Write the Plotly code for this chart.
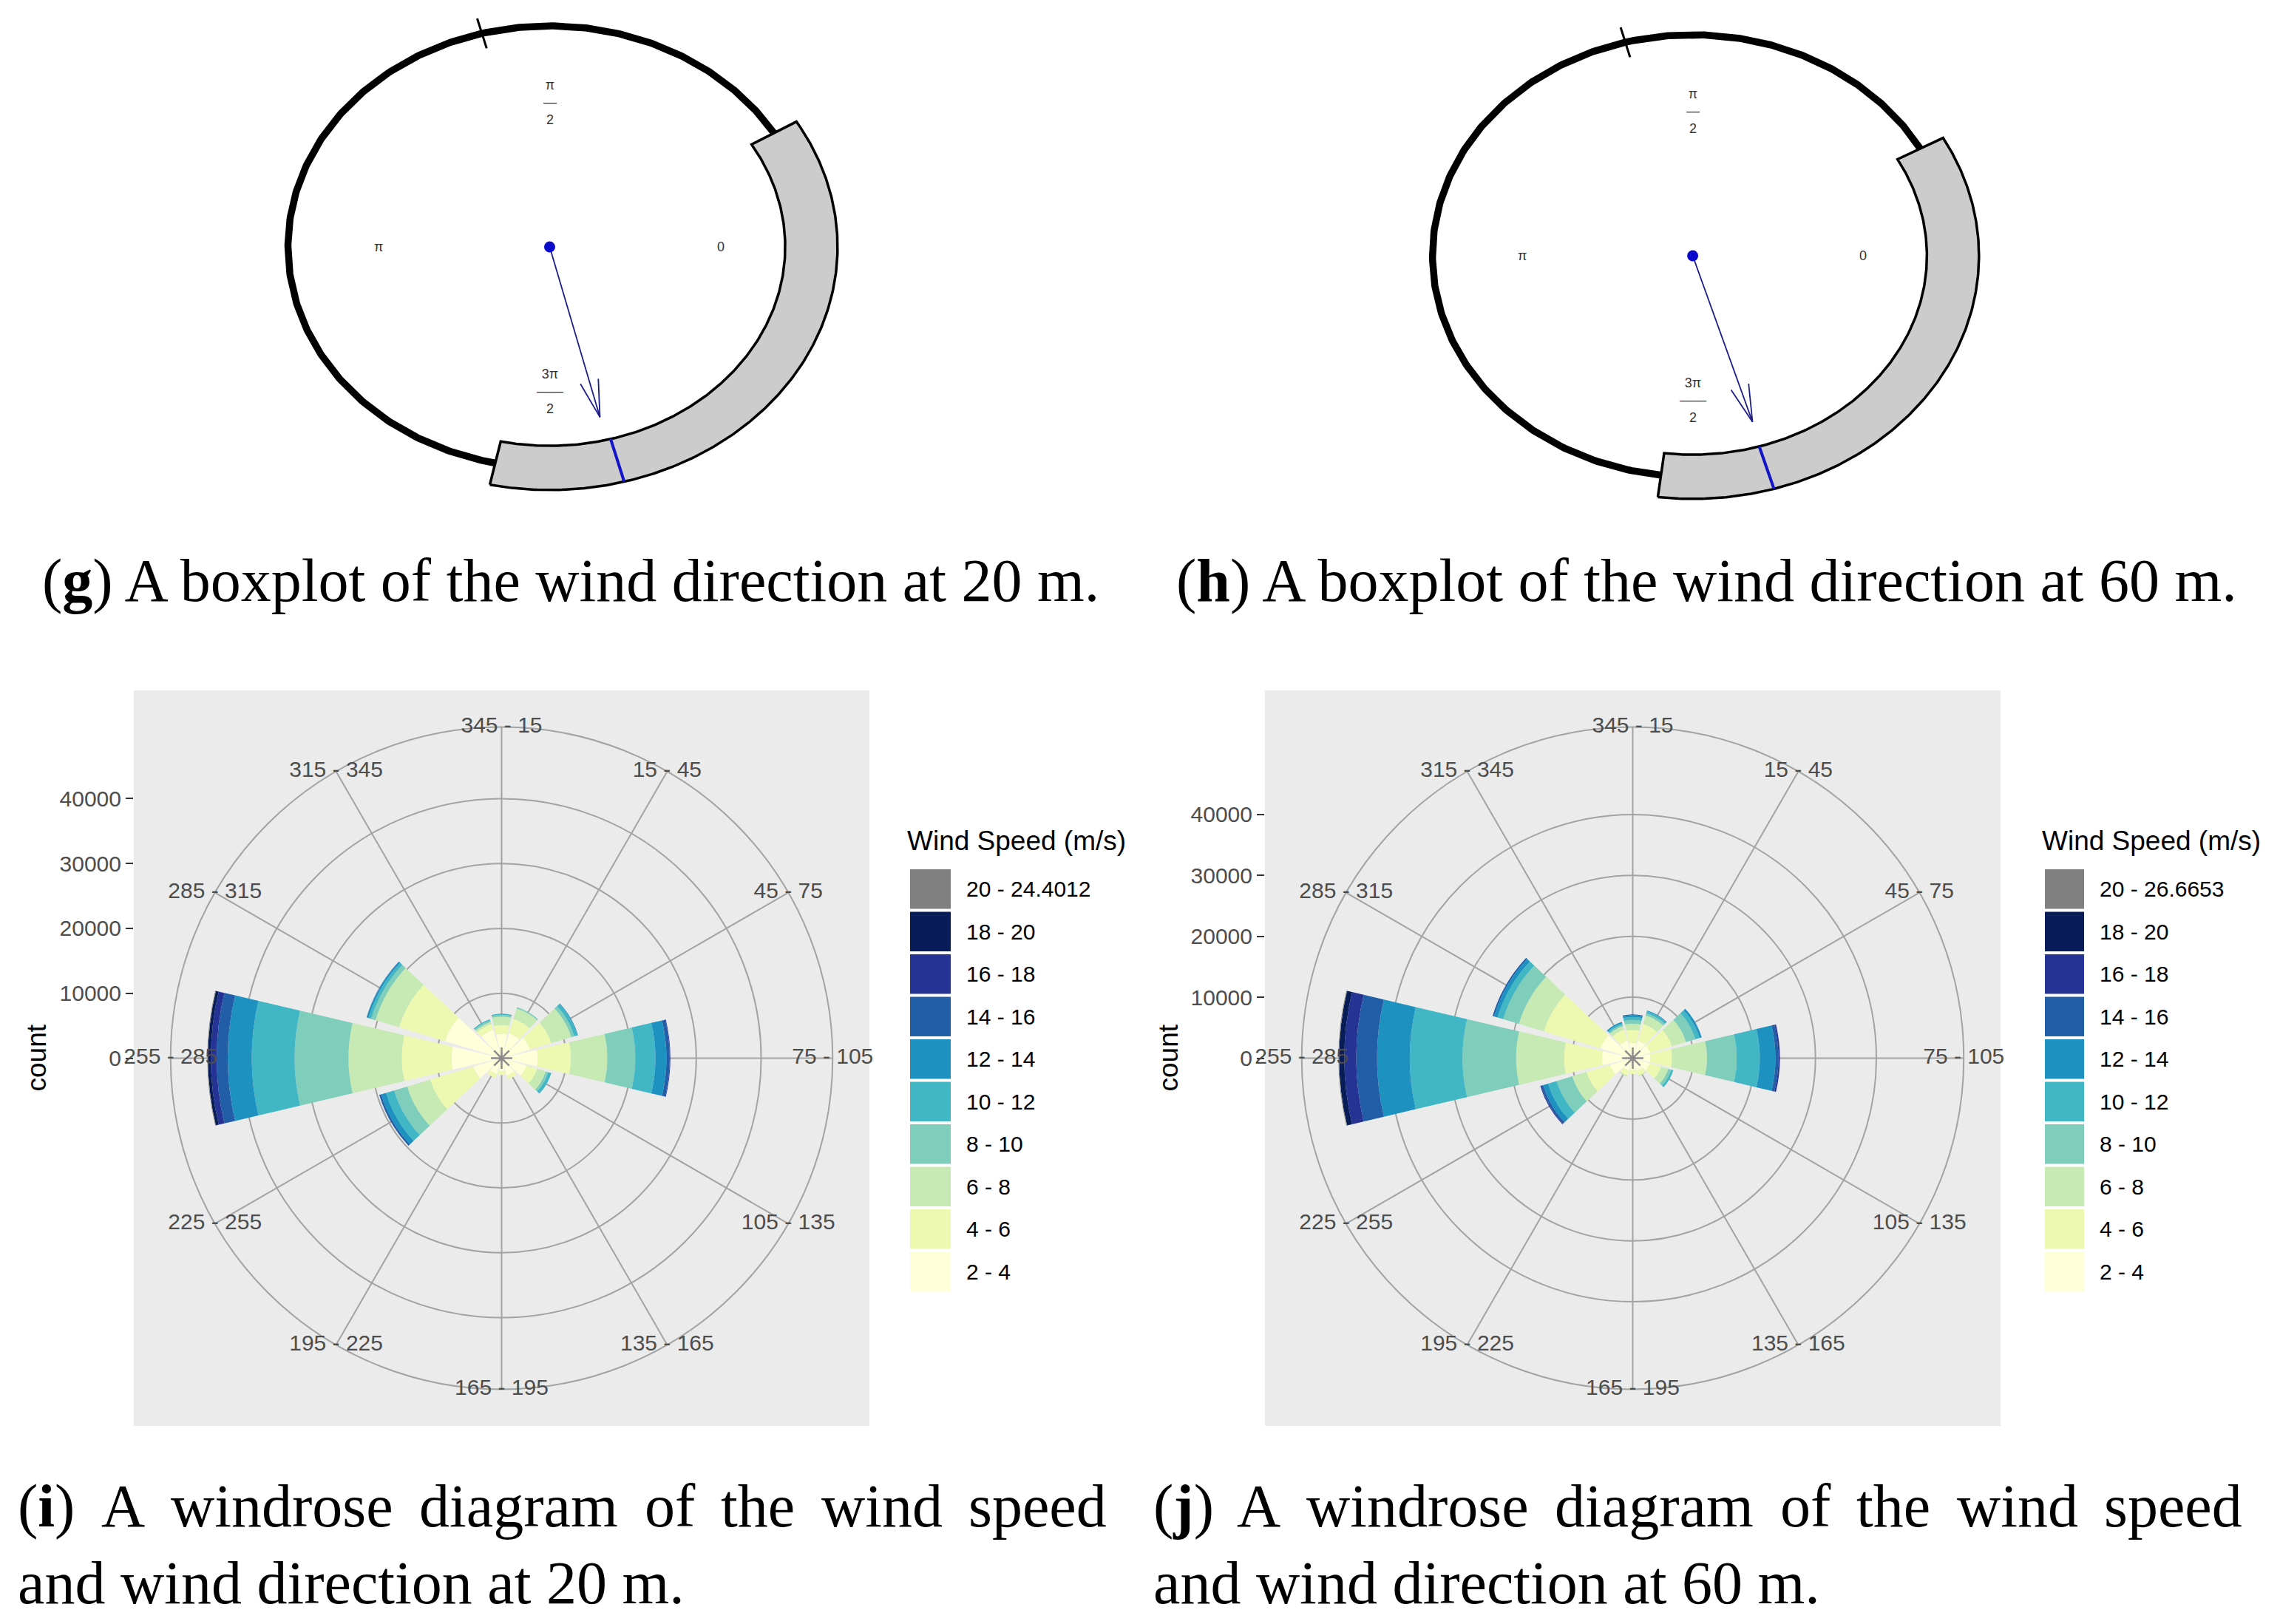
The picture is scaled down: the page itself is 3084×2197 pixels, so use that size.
import numpy as np
import plotly.graph_objects as go

W, H = 3084, 2197
BODY = 8  # default page margin around the plot div

# ---- circular boxplots of wind direction (degrees, 0 = east, counter-clockwise) ----
cb_q1 = [258, 263]
cb_median = [285, 286.5]
cb_q3 = [391, 389]
cb_whisker_end = [105, 105]
cb_mean_dir = [284, 287]
cb_mean_len = [0.794, 0.786]
cb_tick_text = ["0", "π<br>—<br>2", "π", "3π<br>——<br>2"]
cb_tick_angle = [0, 90, 180, 270]

# ---- windrose data ----
direction_bins = ["345 - 15", "15 - 45", "45 - 75", "75 - 105", "105 - 135", "135 - 165",
                  "165 - 195", "195 - 225", "225 - 255", "255 - 285", "285 - 315", "315 - 345"]
direction_mid = [0, 30, 60, 90, 120, 150, 180, 210, 240, 270, 300, 330]
speed_bins_20 = ["2 - 4", "4 - 6", "6 - 8", "8 - 10", "10 - 12", "12 - 14",
                 "14 - 16", "16 - 18", "18 - 20", "20 - 24.4012"]
speed_bins_60 = ["2 - 4", "4 - 6", "6 - 8", "8 - 10", "10 - 12", "12 - 14",
                 "14 - 16", "16 - 18", "18 - 20", "20 - 26.6653"]
speed_colors = ["#FFFFD9", "#EDF8B1", "#C7E9B4", "#7FCDBB", "#41B6C4", "#1D91C0",
                "#225EA8", "#253494", "#081D58", "#808080"]

# counts at 20 m, one list per speed bin (directions in direction_mid order)
c20_2_4 = [3760, 4000, 4560, 5600, 4000, 2800, 2000, 2600, 4560, 7750, 9100, 4560]
c20_4_6 = [1370, 2300, 3440, 5100, 1700, 600, 600, 600, 6940, 7650, 7400, 900]
c20_6_8 = [1270, 1700, 3200, 5600, 1400, 0, 0, 0, 3700, 8200, 3800, 350]
c20_8_10 = [300, 200, 500, 4300, 400, 0, 0, 0, 2100, 8300, 700, 250]
c20_10_12 = [150, 0, 500, 3100, 500, 0, 0, 0, 1300, 6600, 450, 200]
c20_12_14 = [0, 0, 100, 1700, 0, 0, 0, 0, 800, 3700, 250, 0]
c20_14_16 = [0, 0, 0, 500, 0, 0, 0, 0, 300, 1700, 50, 0]
c20_16_18 = [0, 0, 0, 100, 0, 0, 0, 0, 0, 900, 0, 0]
c20_18_20 = [0, 0, 0, 0, 0, 0, 0, 0, 0, 450, 0, 0]
c20_20_max = [0, 0, 0, 0, 0, 0, 0, 0, 0, 100, 0, 0]

# counts at 60 m
c60_2_4 = [2560, 3050, 3050, 2930, 2930, 2200, 2000, 2200, 3900, 5060, 5490, 3050]
c60_4_6 = [2080, 2810, 3660, 3540, 1950, 800, 600, 800, 4030, 6230, 9760, 1830]
c60_6_8 = [1030, 1460, 2440, 5730, 1220, 150, 0, 200, 2440, 7860, 4270, 610]
c60_8_10 = [610, 370, 1590, 4880, 490, 0, 0, 0, 2680, 8790, 2680, 240]
c60_10_12 = [490, 360, 730, 3780, 360, 0, 0, 0, 1470, 8660, 980, 250]
c60_12_14 = [310, 120, 360, 2560, 0, 0, 0, 0, 850, 5370, 620, 240]
c60_14_16 = [120, 0, 0, 490, 0, 0, 0, 0, 370, 3410, 230, 0]
c60_16_18 = [0, 0, 0, 250, 0, 0, 0, 0, 120, 1960, 0, 0]
c60_18_20 = [0, 0, 0, 0, 0, 0, 0, 0, 0, 850, 0, 0]
c60_20_max = [0, 0, 0, 0, 0, 0, 0, 0, 0, 120, 0, 0]

count_ticks = [0, 10000, 20000, 30000, 40000]

counts20 = [c20_2_4, c20_4_6, c20_6_8, c20_8_10, c20_10_12,
            c20_12_14, c20_14_16, c20_16_18, c20_18_20, c20_20_max]
counts60 = [c60_2_4, c60_4_6, c60_6_8, c60_8_10, c60_10_12,
            c60_12_14, c60_14_16, c60_16_18, c60_18_20, c60_20_max]


def pxx(x):
    return (x - BODY) / W


def pxy(y):
    return 1 - (y - BODY) / H


SANS = "Liberation Sans, Arial, sans-serif"
SERIF = "Liberation Serif, Times New Roman, serif"
GRID = "#A3A3A3"

# Times advance widths (1/1000 em), used to justify the first caption line
TIMES_W = {"(": 333, ")": 333, "i": 278, "j": 278, "A": 722, "w": 722, "n": 500, "d": 500,
           "r": 333, "o": 500, "s": 389, "e": 444, "a": 444, "g": 500, "m": 778, "f": 333,
           "t": 278, "h": 500, "p": 500}

fig = go.Figure()
layout = dict(width=W, height=H, margin=dict(l=0, r=0, t=0, b=0),
              paper_bgcolor="white", plot_bgcolor="rgba(0,0,0,0)",
              showlegend=False, shapes=[], annotations=[])


def arc(a0, a1, r=1.0, n=240):
    t = np.radians(np.linspace(a0, a1, n))
    return r * np.cos(t), r * np.sin(t)


# ---------------- top row: circular boxplots ----------------
top_centres = [(743.5, 334), (2289.6, 346)]
top_rx = [354, 352]
top_ry = [299, 299]
top_xdom = [(BODY, 1542), (1542, W + BODY)]
top_ydom = (BODY, 740)

for k in range(2):
    xa, ya = ("x", "y") if k == 0 else ("x2", "y2")
    cx, cy = top_centres[k]
    rx, ry = top_rx[k], top_ry[k]

    # whiskers (thick black arcs)
    for a0, a1 in [(cb_q3[k] - 360, cb_whisker_end[k]), (cb_whisker_end[k], cb_q1[k])]:
        x, y = arc(a0, a1)
        fig.add_trace(go.Scatter(x=x, y=y, mode="lines", line=dict(color="black", width=9.5),
                                 xaxis=xa, yaxis=ya, hoverinfo="skip"))
    # whisker end tick
    t = np.radians(cb_whisker_end[k])
    fig.add_trace(go.Scatter(x=[0.93 * np.cos(t), 1.07 * np.cos(t)], y=[0.93 * np.sin(t), 1.07 * np.sin(t)],
                             mode="lines", line=dict(color="black", width=3),
                             xaxis=xa, yaxis=ya, hoverinfo="skip"))
    # box between quartiles
    xo, yo = arc(cb_q1[k], cb_q3[k], 1.1)
    xi, yi = arc(cb_q3[k], cb_q1[k], 0.9)
    fig.add_trace(go.Scatter(x=np.r_[xo, xi, xo[:1]], y=np.r_[yo, yi, yo[:1]], mode="lines",
                             fill="toself", fillcolor="#CCCCCC", line=dict(color="black", width=3.5),
                             xaxis=xa, yaxis=ya, hoverinfo="skip"))
    # median
    t = np.radians(cb_median[k])
    fig.add_trace(go.Scatter(x=[0.9 * np.cos(t), 1.1 * np.cos(t)], y=[0.9 * np.sin(t), 1.1 * np.sin(t)],
                             mode="lines", line=dict(color="#1414C8", width=4),
                             xaxis=xa, yaxis=ya, hoverinfo="skip"))
    # mean resultant arrow
    t = np.radians(cb_mean_dir[k])
    tipx, tipy = cb_mean_len[k] * np.cos(t), cb_mean_len[k] * np.sin(t)
    back = np.array([-tipx * rx, -tipy * ry])
    back = back / np.hypot(*back)
    ax_, ay_ = [0, tipx, None], [0, tipy, None]
    for s in (-14, 14):
        a = np.radians(s)
        bx = (back[0] * np.cos(a) - back[1] * np.sin(a)) * 52
        by = (back[0] * np.sin(a) + back[1] * np.cos(a)) * 52
        ax_ += [tipx, tipx + bx / rx, None]
        ay_ += [tipy, tipy + by / ry, None]
    fig.add_trace(go.Scatter(x=ax_, y=ay_, mode="lines", line=dict(color="#1C1C8A", width=1.8),
                             xaxis=xa, yaxis=ya, hoverinfo="skip"))
    fig.add_trace(go.Scatter(x=[0], y=[0], mode="markers", marker=dict(color="#0A0ACC", size=15),
                             xaxis=xa, yaxis=ya, hoverinfo="skip"))
    for txt, ang in zip(cb_tick_text, cb_tick_angle):
        t = np.radians(ang)
        layout["annotations"].append(dict(x=0.655 * np.cos(t), y=0.655 * np.sin(t), xref=xa, yref=ya,
                                          xanchor="center", yanchor="middle",
                                          text=txt, showarrow=False, font=dict(family=SANS, size=18, color="#333333")))

    x0, x1 = top_xdom[k]
    y0, y1 = top_ydom
    key = "" if k == 0 else "2"
    layout["xaxis" + key] = dict(domain=[pxx(x0), pxx(x1)], range=[(x0 - cx) / rx, (x1 - cx) / rx],
                                 visible=False, anchor="y" + key)
    layout["yaxis" + key] = dict(domain=[pxy(y1), pxy(y0)], range=[(cy - y1) / ry, (cy - y0) / ry],
                                 visible=False, anchor="x" + key)

# ---------------- bottom row: windroses ----------------
panel_left = [181, 1711]
panel_top, panel_size = 934, 995
legend_key_x = [(1231, 1286), (2766, 2819)]
legend_key_y = (1174, 1749)
count_title_x = [49, 1580]

for k, (counts, bins) in enumerate([(counts20, speed_bins_20), (counts60, speed_bins_60)]):
    pname = "polar" if k == 0 else "polar2"
    totals = np.sum(np.array(counts), axis=0)
    rmax = float(totals.max())
    cx = panel_left[k] + panel_size / 2
    cy = panel_top + panel_size / 2
    R = 0.45 * panel_size

    layout["shapes"].append(dict(type="rect", xref="paper", yref="paper", layer="below",
                                 x0=pxx(panel_left[k]), x1=pxx(panel_left[k] + panel_size),
                                 y0=pxy(panel_top + panel_size), y1=pxy(panel_top),
                                 fillcolor="#EBEBEB", line=dict(width=0)))

    fig.add_trace(go.Scatterpolar(r=[rmax * 1.125] * len(direction_mid), theta=direction_mid,
                                  mode="text", text=direction_bins, cliponaxis=False,
                                  textfont=dict(family=SANS, size=30, color="#4D4D4D"),
                                  subplot=pname, hoverinfo="skip"))
    for row, color, name in zip(counts, speed_colors, bins):
        fig.add_trace(go.Barpolar(r=row, theta=direction_mid, width=26.5, name=name,
                                  marker=dict(color=color, line=dict(width=0)), subplot=pname))
    fig.add_trace(go.Scatterpolar(r=[0], theta=[0], mode="markers", subplot=pname, hoverinfo="skip",
                                  marker=dict(symbol="asterisk-open", size=24, color="#8C8C8C",
                                              line=dict(color="#8C8C8C", width=2.5))))

    layout[pname] = dict(
        domain=dict(x=[pxx(cx - R), pxx(cx + R)], y=[pxy(cy + R), pxy(cy - R)]),
        bgcolor="#EBEBEB", barmode="stack",
        radialaxis=dict(range=[0, rmax * 1.125], tickvals=count_ticks[1:], showticklabels=False,
                        ticks="", showline=False, gridcolor=GRID, gridwidth=2, layer="below traces"),
        angularaxis=dict(rotation=90, direction="clockwise", tickvals=direction_mid, showticklabels=False,
                         ticks="", gridcolor=GRID, gridwidth=2, showline=True, linecolor=GRID,
                         linewidth=2, layer="below traces"),
    )

    # radial count axis drawn at the left of the panel
    n3, n5 = str(3 + k), str(5 + k)
    fig.add_trace(go.Scatter(x=[0.5], y=[0], mode="markers", marker=dict(opacity=0),
                             xaxis="x" + n3, yaxis="y" + n3, hoverinfo="skip"))
    layout["xaxis" + n3] = dict(domain=[pxx(panel_left[k]), pxx(panel_left[k] + panel_size)],
                                range=[0, 1], visible=False, anchor="y" + n3)
    layout["yaxis" + n3] = dict(domain=[pxy(panel_top + panel_size), pxy(panel_top)],
                                range=[-1.25 * rmax, 1.25 * rmax], anchor="x" + n3,
                                tickvals=count_ticks, tickformat="d", ticks="outside", ticklen=10,
                                tickwidth=2, tickcolor="#333333", showgrid=False, zeroline=False,
                                showline=False, tickfont=dict(family=SANS, size=30, color="#4D4D4D"))
    layout["annotations"].append(dict(x=pxx(count_title_x[k]), y=pxy(cy), xref="paper", yref="paper",
                                      xanchor="center", yanchor="middle",
                                      text="count", textangle=-90, showarrow=False,
                                      font=dict(family=SANS, size=37, color="black")))

    # legend as keyed bars with labels on the right
    fig.add_trace(go.Bar(x=[1] * len(bins), y=bins, orientation="h", width=0.93,
                         marker=dict(color=speed_colors, line=dict(width=0)),
                         xaxis="x" + n5, yaxis="y" + n5, hoverinfo="skip"))
    lx0, lx1 = legend_key_x[k]
    ly0, ly1 = legend_key_y
    layout["xaxis" + n5] = dict(domain=[pxx(lx0), pxx(lx1)], range=[0, 1], visible=False, anchor="y" + n5)
    layout["yaxis" + n5] = dict(domain=[pxy(ly1), pxy(ly0)], anchor="x" + n5, type="category",
                                categoryorder="array", categoryarray=bins, side="right",
                                ticks="", showgrid=False, zeroline=False, showline=False,
                                ticklabelstandoff=20, tickfont=dict(family=SANS, size=30, color="black"))
    layout["annotations"].append(dict(x=pxx(lx0 - 6), y=pxy(1137), xref="paper", yref="paper",
                                      xanchor="left", yanchor="middle", text="Wind Speed (m/s)",
                                      showarrow=False, font=dict(family=SANS, size=37, color="black")))

# ---------------- captions ----------------
CAP_SIZE = 82
cap_font = dict(family=SERIF, size=CAP_SIZE, color="black")
for x, lab, h in [(55, "g", "20"), (1589, "h", "60")]:
    layout["annotations"].append(dict(x=pxx(x), y=pxy(785), xref="paper", yref="paper",
                                      xanchor="left", yanchor="middle",
                                      text=f"(<b>{lab}</b>) A boxplot of the wind direction at {h} m.",
                                      showarrow=False, font=cap_font))

line1_words = ["A", "windrose", "diagram", "of", "the", "wind", "speed"]
for x_left, x_right, lab, h in [(22, 1495, "i", "20"), (1558, 3031, "j", "60")]:
    plain = [f"({lab})"] + line1_words
    shown = [f"(<b>{lab}</b>)"] + line1_words
    widths = [sum(TIMES_W[c] for c in w_) * CAP_SIZE / 1000 for w_ in plain]
    gap = (x_right - x_left - sum(widths)) / (len(plain) - 1)
    pos = x_left
    for w_, wd in zip(shown, widths):
        layout["annotations"].append(dict(x=pxx(pos), y=pxy(2037), xref="paper", yref="paper",
                                          xanchor="left", yanchor="middle", text=w_,
                                          showarrow=False, font=cap_font))
        pos += wd + gap
    layout["annotations"].append(dict(x=pxx(x_left), y=pxy(2141), xref="paper", yref="paper",
                                      xanchor="left", yanchor="middle",
                                      text=f"and wind direction at {h} m.", showarrow=False, font=cap_font))

fig.update_layout(**layout)
fig.write_html("out.html")
